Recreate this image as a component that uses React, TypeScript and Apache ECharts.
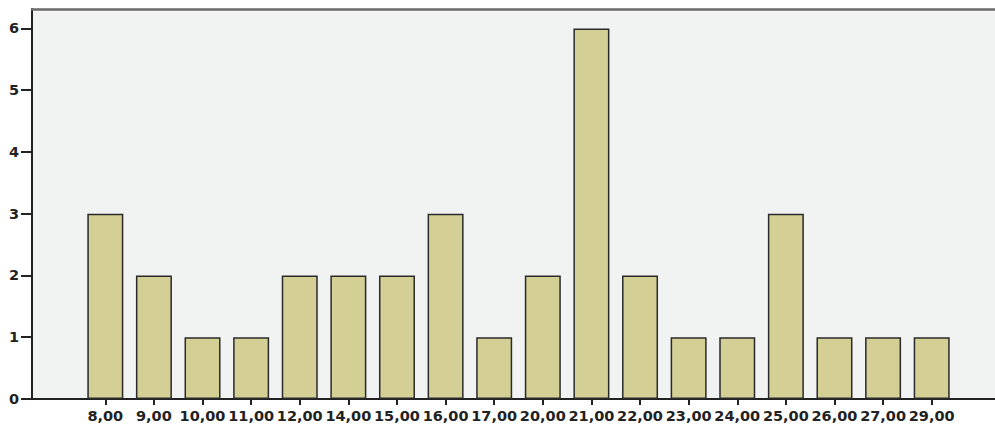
import React, { useEffect, useRef } from "react";
import * as echarts from "echarts";

const categories = ["8,00", "9,00", "10,00", "11,00", "12,00", "14,00", "15,00", "16,00", "17,00", "20,00", "21,00", "22,00", "23,00", "24,00", "25,00", "26,00", "27,00", "29,00"];
const counts = [3, 2, 1, 1, 2, 2, 2, 3, 1, 2, 6, 2, 1, 1, 3, 1, 1, 1];
const yTicks = [0, 1, 2, 3, 4, 5, 6];

const Y_MAX = 6.315;
const FONT = "'DejaVu Sans', Verdana, sans-serif";

export default function App() {
  const ref = useRef<HTMLDivElement>(null);
  useEffect(() => {
    document.body.style.margin = "0";
    const chart = echarts.init(ref.current!, null, { renderer: "svg" });
    chart.setOption({
      animation: false,
      grid: [
        { left: 32, right: 0, top: 9, bottom: 26, show: true, backgroundColor: "#f1f3f2", borderWidth: 0 },
        { left: 81, right: 39, top: 9, bottom: 26 },
      ],
      xAxis: [
        {
          gridIndex: 0,
          type: "value",
          min: 0,
          max: 1,
          axisLine: { show: true, lineStyle: { color: "#222", width: 2 } },
          axisTick: { show: false },
          axisLabel: { show: false },
          splitLine: { show: false },
        },
        {
          gridIndex: 0,
          type: "value",
          position: "top",
          min: 0,
          max: 1,
          axisLine: { show: true, lineStyle: { color: "#6a6a6a", width: 2.5 } },
          axisTick: { show: false },
          axisLabel: { show: false },
          splitLine: { show: false },
        },
        {
          gridIndex: 1,
          type: "category",
          data: categories,
          axisLine: { show: false },
          axisTick: { show: true, alignWithLabel: true, length: 6, lineStyle: { color: "#222", width: 2 } },
          axisLabel: { color: "#222", fontFamily: FONT, fontSize: 14.5, fontWeight: "bold", margin: 9, interval: 0 },
        },
      ],
      yAxis: [
        {
          gridIndex: 0,
          type: "value",
          min: 0,
          max: Y_MAX,
          interval: 1,
          axisLine: { show: true, lineStyle: { color: "#222", width: 2 } },
          axisTick: { show: true, length: 11, lineStyle: { color: "#222", width: 2 } },
          axisLabel: {
            color: "#222",
            fontFamily: FONT,
            fontSize: 14.5,
            fontWeight: "bold",
            margin: 13,
            showMaxLabel: false,
            formatter: (v: number) => (yTicks.includes(v) ? String(v) : ""),
          },
          splitLine: { show: false },
        },
        {
          gridIndex: 1,
          type: "value",
          min: 0,
          max: Y_MAX,
          show: false,
        },
      ],
      series: [
        {
          type: "bar",
          xAxisIndex: 2,
          yAxisIndex: 1,
          data: counts,
          barWidth: 36,
          itemStyle: { color: "#d3cf95", borderColor: "#2a2a2a", borderWidth: 1.5 },
        },
      ],
    });
    return () => chart.dispose();
  }, []);
  return <div ref={ref} style={{ width: 995, height: 425 }} />;
}
